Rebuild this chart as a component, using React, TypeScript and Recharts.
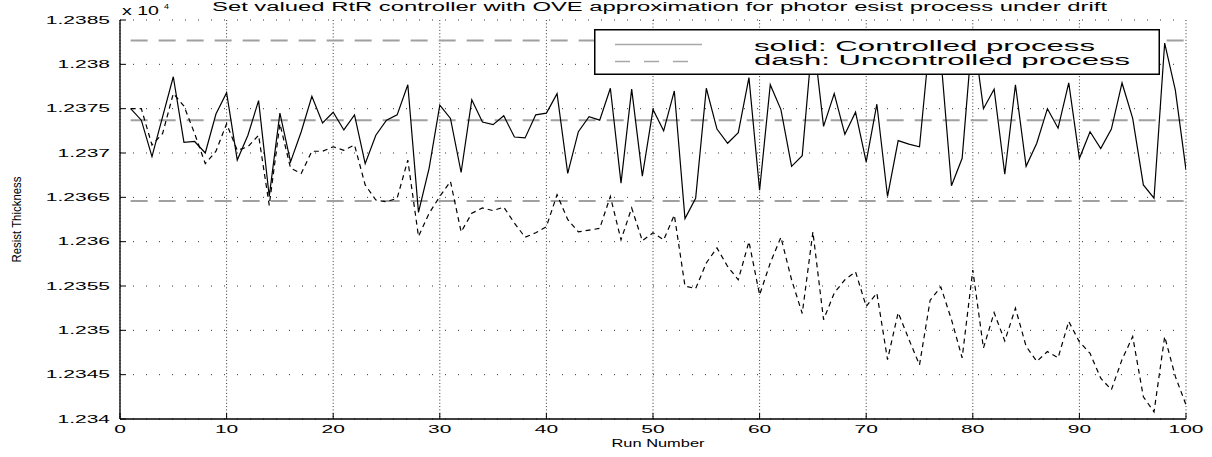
import React from "react";
import {
  LineChart,
  Line,
  XAxis,
  YAxis,
  CartesianGrid,
  ReferenceLine,
  Legend,
} from "recharts";

const FONT = '"Liberation Sans", Arial, Helvetica, sans-serif';
// the source figure was stretched sideways, so text is widened to match
const SX = 2.0;

// resist thickness (x 10^4), runs 1..100
const controlled = [
  1.2375, 1.23737, 1.23696, 1.23741, 1.23786, 1.23712, 1.23713, 1.237, 1.23744, 1.23768,
  1.23692, 1.2372, 1.23759, 1.23651, 1.23745, 1.2369, 1.23724, 1.23764, 1.23734, 1.23746,
  1.23726, 1.23743, 1.23688, 1.2372, 1.23737, 1.23743, 1.23777, 1.23633, 1.23683, 1.23754,
  1.23739, 1.23678, 1.2376, 1.23735, 1.23732, 1.23742, 1.23718, 1.23717, 1.23743, 1.23745,
  1.23767, 1.23677, 1.23724, 1.23741, 1.23737, 1.23773, 1.23666, 1.23772, 1.23674, 1.23749,
  1.23725, 1.2377, 1.23626, 1.23649, 1.23773, 1.23727, 1.23711, 1.23723, 1.23785, 1.23658,
  1.23777, 1.23749, 1.23685, 1.23697, 1.23835, 1.2373, 1.23767, 1.23721, 1.23746, 1.2369,
  1.23755, 1.23651, 1.23714, 1.2371, 1.23707, 1.23832, 1.23808, 1.23663, 1.23694, 1.2384,
  1.2375, 1.23772, 1.23676, 1.23777, 1.23685, 1.23711, 1.2375, 1.23728, 1.23779, 1.23694,
  1.23724, 1.23705, 1.23727, 1.23779, 1.23739, 1.23664, 1.23649, 1.23824, 1.23771, 1.23681,
];

const uncontrolled = [
  1.2375, 1.2375, 1.23709, 1.23722, 1.23767, 1.23753, 1.23722, 1.23688, 1.23702, 1.23733,
  1.23703, 1.23707, 1.2372, 1.23641, 1.23733, 1.23683, 1.23677, 1.23702, 1.23702, 1.23707,
  1.23703, 1.23709, 1.23664, 1.23647, 1.23645, 1.23649, 1.23692, 1.23606, 1.23632, 1.23651,
  1.23668, 1.23611, 1.23632, 1.23638, 1.23635, 1.23639, 1.23621, 1.23605, 1.2361, 1.23617,
  1.23653, 1.23625, 1.23611, 1.23613, 1.23615, 1.23651, 1.23602, 1.23638, 1.23601, 1.2361,
  1.23602, 1.2363, 1.2355, 1.23547, 1.23576, 1.23593, 1.23572, 1.23557, 1.236, 1.2354,
  1.23576, 1.23605, 1.23557, 1.23519, 1.23611, 1.23512, 1.23542, 1.23557, 1.23566, 1.23527,
  1.23542, 1.23467, 1.2352, 1.2349, 1.23461, 1.23534, 1.23549, 1.23512, 1.23469, 1.23568,
  1.2348, 1.2352, 1.23488, 1.23525, 1.23482, 1.23465, 1.23476, 1.23469, 1.2351, 1.23487,
  1.23474, 1.23446, 1.23433, 1.23467, 1.23493, 1.23425, 1.23408, 1.23493, 1.23448, 1.23416,
];

// set bounds drawn as grey dashes
const upperBound = 1.23827;
const targetValue = 1.23737;
const lowerBound = 1.23646;

const xTicks = [0, 10, 20, 30, 40, 50, 60, 70, 80, 90, 100];
const yTicks = [
  1.234, 1.2345, 1.235, 1.2355, 1.236, 1.2365, 1.237, 1.2375, 1.238, 1.2385,
];

const data = controlled.map((c, i) => ({
  run: i + 1,
  controlled: c,
  uncontrolled: uncontrolled[i],
}));

const firstRun = data[0].run;
const lastRun = data[data.length - 1].run;

const fmtY = (v: number) => String(parseFloat(v.toFixed(4)));

// MATLAB style: ticks point into the plot
const BottomTick = (props: any) => {
  const { x, y, payload } = props;
  return (
    <g>
      <line x1={x} y1={y} x2={x} y2={y - 6} stroke="#000" />
      <text
        transform={`translate(${x},${y + 14}) scale(${SX},1)`}
        textAnchor="middle"
        fontSize={10.5}
        fontFamily={FONT}
        fill="#000"
      >
        {payload.value}
      </text>
    </g>
  );
};

const TopTick = (props: any) => {
  const { x, y } = props;
  return <line x1={x} y1={y} x2={x} y2={y + 6} stroke="#000" />;
};

const LeftTick = (props: any) => {
  const { x, y, payload } = props;
  return (
    <g>
      <line x1={x} y1={y} x2={x + 6} y2={y} stroke="#000" />
      <text
        transform={`translate(${x - 10},${y + 3.8}) scale(${SX},1)`}
        textAnchor="end"
        fontSize={10.5}
        fontFamily={FONT}
        fill="#000"
      >
        {fmtY(payload.value)}
      </text>
    </g>
  );
};

const RightTick = (props: any) => {
  const { x, y } = props;
  return <line x1={x} y1={y} x2={x - 6} y2={y} stroke="#000" />;
};

const RunLabel = (props: any) => {
  const { viewBox } = props;
  const cx = viewBox.x + viewBox.width / 2 + 5;
  return (
    <text
      x={cx}
      y={viewBox.y + 28}
      textAnchor="middle"
      fontSize={11.5}
      fontFamily={FONT}
      textLength={93}
      lengthAdjust="spacingAndGlyphs"
    >
      Run Number
    </text>
  );
};

// y label, the exponent note and the title all hang off the left axis box
const YLabel = (props: any) => {
  const { viewBox } = props;
  const cy = viewBox.y + viewBox.height / 2;
  const ax = viewBox.x + viewBox.width;
  return (
    <g fontFamily={FONT} fill="#000">
      <text
        transform={`translate(21,${cy}) rotate(-90)`}
        textAnchor="middle"
        fontSize={13.5}
        textLength={86}
        lengthAdjust="spacingAndGlyphs"
      >
        Resist Thickness
      </text>
      <text
        x={ax + 2}
        y={viewBox.y - 5}
        fontSize={12.5}
        textLength={37}
        lengthAdjust="spacingAndGlyphs"
      >
        x 10
      </text>
      <text
        x={ax + 44}
        y={viewBox.y - 11.5}
        fontSize={8}
        textLength={5}
        lengthAdjust="spacingAndGlyphs"
      >
        4
      </text>
      <text
        x={ax + 92}
        y={viewBox.y - 9}
        fontSize={12}
        textLength={895}
        lengthAdjust="spacingAndGlyphs"
      >
        Set valued RtR controller with OVE approximation for photor esist process under drift
      </text>
    </g>
  );
};

const LegendBox = () => (
  <div style={{ width: 566, height: 46, background: "#fff" }}>
    <svg width={566} height={46} style={{ display: "block" }}>
      <rect x={0.75} y={0.75} width={564.5} height={44.5} fill="#fff" stroke="#000" strokeWidth={1.5} />
      <line x1={21} y1={15.5} x2={108} y2={15.5} stroke="#a8a8a8" strokeWidth={1.5} />
      <line x1={21} y1={32.5} x2={94} y2={32.5} stroke="#a8a8a8" strokeWidth={1.5} strokeDasharray="15 14" />
      <text x={160} y={21.5} fontSize={14} fontFamily={FONT} textLength={341} lengthAdjust="spacingAndGlyphs">
        solid: Controlled process
      </text>
      <text x={160} y={35.5} fontSize={14} fontFamily={FONT} textLength={376} lengthAdjust="spacingAndGlyphs">
        dash: Uncontrolled process
      </text>
    </svg>
  </div>
);

export default function App() {
  return (
    <div style={{ position: "absolute", left: 0, top: 0, background: "#fff" }}>
      <LineChart
        width={1212}
        height={457}
        data={data}
        margin={{ top: 20, right: 26, bottom: 0, left: 0 }}
      >
        <CartesianGrid vertical={false} stroke="#333" strokeDasharray="1 12" />
        <CartesianGrid horizontal={false} stroke="#333" strokeDasharray="1 2.3" />
        <XAxis
          dataKey="run"
          type="number"
          domain={[0, 100]}
          ticks={xTicks}
          allowDataOverflow
          height={38}
          tickSize={0}
          tickMargin={0}
          tickLine={false}
          tick={BottomTick}
          interval={0}
          axisLine={{ stroke: "#000", strokeWidth: 1.3 }}
          label={<RunLabel />}
        />
        <XAxis
          xAxisId="top"
          orientation="top"
          dataKey="run"
          type="number"
          domain={[0, 100]}
          ticks={xTicks}
          allowDataOverflow
          height={0}
          tickSize={0}
          tickMargin={0}
          tickLine={false}
          tick={TopTick}
          interval={0}
          axisLine={{ stroke: "#000", strokeWidth: 1.3 }}
        />
        <YAxis
          type="number"
          domain={[1.234, 1.2385]}
          ticks={yTicks}
          allowDataOverflow
          width={120}
          tickSize={0}
          tickMargin={0}
          tickLine={false}
          tick={LeftTick}
          interval={0}
          axisLine={{ stroke: "#000", strokeWidth: 1.3 }}
          label={<YLabel />}
        />
        <YAxis
          yAxisId="right"
          orientation="right"
          type="number"
          domain={[1.234, 1.2385]}
          ticks={yTicks}
          allowDataOverflow
          width={0}
          tickSize={0}
          tickMargin={0}
          tickLine={false}
          tick={RightTick}
          interval={0}
          axisLine={{ stroke: "#000", strokeWidth: 1.3 }}
        />
        {[upperBound, targetValue, lowerBound].map((v) => (
          <ReferenceLine
            key={v}
            segment={[
              { x: firstRun, y: v },
              { x: lastRun, y: v },
            ]}
            stroke="#a0a0a0"
            strokeWidth={2}
            strokeDasharray="17 11"
          />
        ))}
        <Line
          type="linear"
          dataKey="uncontrolled"
          stroke="#000"
          strokeWidth={1.2}
          strokeDasharray="5 4"
          dot={false}
          activeDot={false}
          isAnimationActive={false}
        />
        <Line
          type="linear"
          dataKey="controlled"
          stroke="#000"
          strokeWidth={1.2}
          dot={false}
          activeDot={false}
          isAnimationActive={false}
        />
        <Legend
          layout="horizontal"
          verticalAlign="middle"
          align="center"
          content={<LegendBox />}
          wrapperStyle={{ left: 594, top: 29, width: 566, height: 46 }}
        />
      </LineChart>
    </div>
  );
}
